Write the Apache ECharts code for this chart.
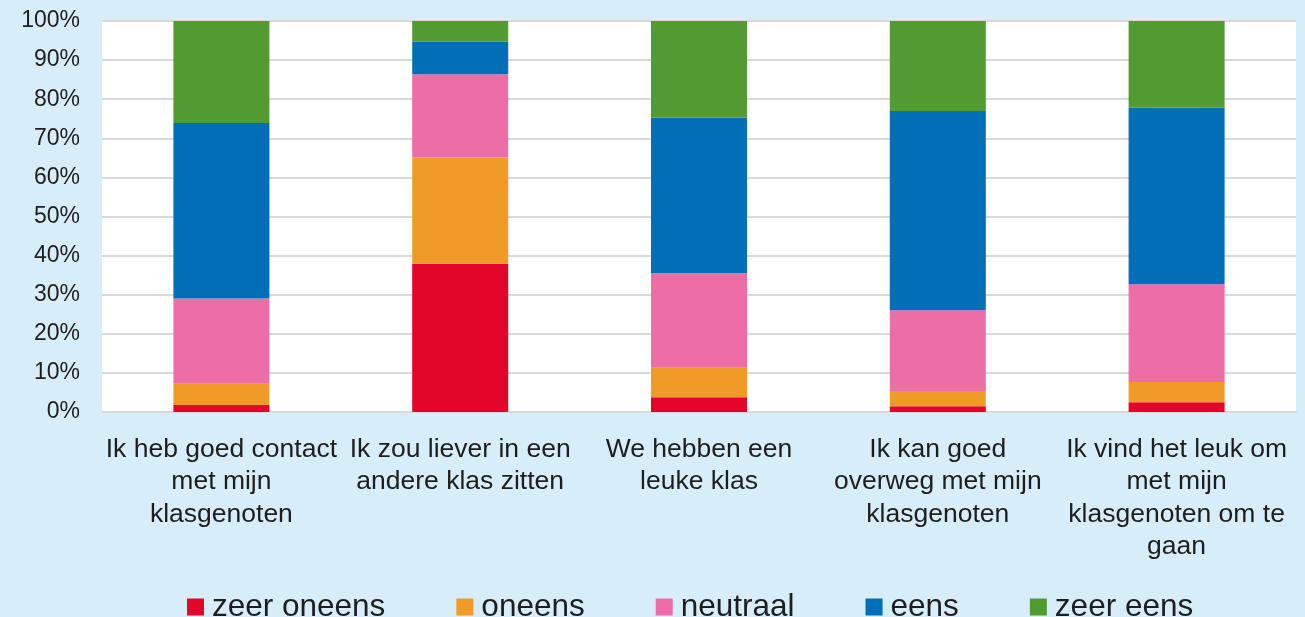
<!DOCTYPE html>
<html>
<head>
<meta charset="utf-8">
<script src="https://cdn.jsdelivr.net/npm/echarts@6/dist/echarts.min.js"></script>
<style>
html,body{margin:0;padding:0;background:#d7edf9;}
#chart{width:1305px;height:617px;}
</style>
</head>
<body>
<div id="chart"></div>
<script>
const categories = [
  "Ik heb goed contact\nmet mijn\nklasgenoten",
  "Ik zou liever in een\nandere klas zitten",
  "We hebben een\nleuke klas",
  "Ik kan goed\noverweg met mijn\nklasgenoten",
  "Ik vind het leuk om\nmet mijn\nklasgenoten om te\ngaan"
];
const seriesNames = ["zeer oneens", "oneens", "neutraal", "eens", "zeer eens"];
const zeerOneens = [1.8, 37.9, 3.8, 1.5, 2.5];
const oneens     = [5.4, 27.2, 7.5, 3.9, 5.2];
const neutraal   = [21.8, 21.3, 24.2, 20.6, 25.0];
const eens       = [44.9, 8.3, 39.8, 51.0, 45.2];
const zeerEens   = [26.1, 5.3, 24.7, 23.0, 22.1];
const yTicks = { min: 0, max: 100, interval: 10 };

const seriesData = [zeerOneens, oneens, neutraal, eens, zeerEens];
const colors = ["#e3052a", "#f09b28", "#ed6ea7", "#006fb8", "#529b33"];
const font = "'Liberation Sans', Arial, sans-serif";

const chart = echarts.init(document.getElementById('chart'), null, {renderer: 'canvas'});
chart.setOption({
  backgroundColor: '#d7edf9',
  animation: false,
  color: colors,
  grid: {
    left: 102, right: 9, top: 21, bottom: 205,
    show: true, backgroundColor: '#ffffff', borderWidth: 0,
    containLabel: false
  },
  legend: {
    data: seriesNames,
    left: 187, top: 591, padding: 0,
    itemWidth: 17, itemHeight: 17, itemGap: 71,
    icon: 'rect',
    textStyle: { fontFamily: font, fontSize: 31.5, color: '#1e1e1e', lineHeight: 31, padding: [0, 0, 0, 3] }
  },
  xAxis: {
    type: 'category',
    data: categories,
    axisTick: { show: false },
    axisLine: { show: true, lineStyle: { color: '#d9d9d9', width: 2 } },
    axisLabel: {
      interval: 0, margin: 21,
      fontFamily: font, fontSize: 26.5, lineHeight: 32.5, color: '#1e1e1e', align: 'center'
    }
  },
  yAxis: {
    type: 'value',
    min: yTicks.min, max: yTicks.max, interval: yTicks.interval,
    axisLine: { show: false },
    axisTick: { show: false },
    splitLine: { lineStyle: { color: '#d9d9d9', width: 2 } },
    axisLabel: { formatter: '{value}%', margin: 22, fontFamily: font, fontSize: 23, color: '#1e1e1e' }
  },
  series: seriesNames.map((name, i) => ({
    name: name,
    type: 'bar',
    stack: 'total',
    barWidth: 96,
    data: seriesData[i],
    itemStyle: { color: colors[i] }
  }))
});
</script>
</body>
</html>
